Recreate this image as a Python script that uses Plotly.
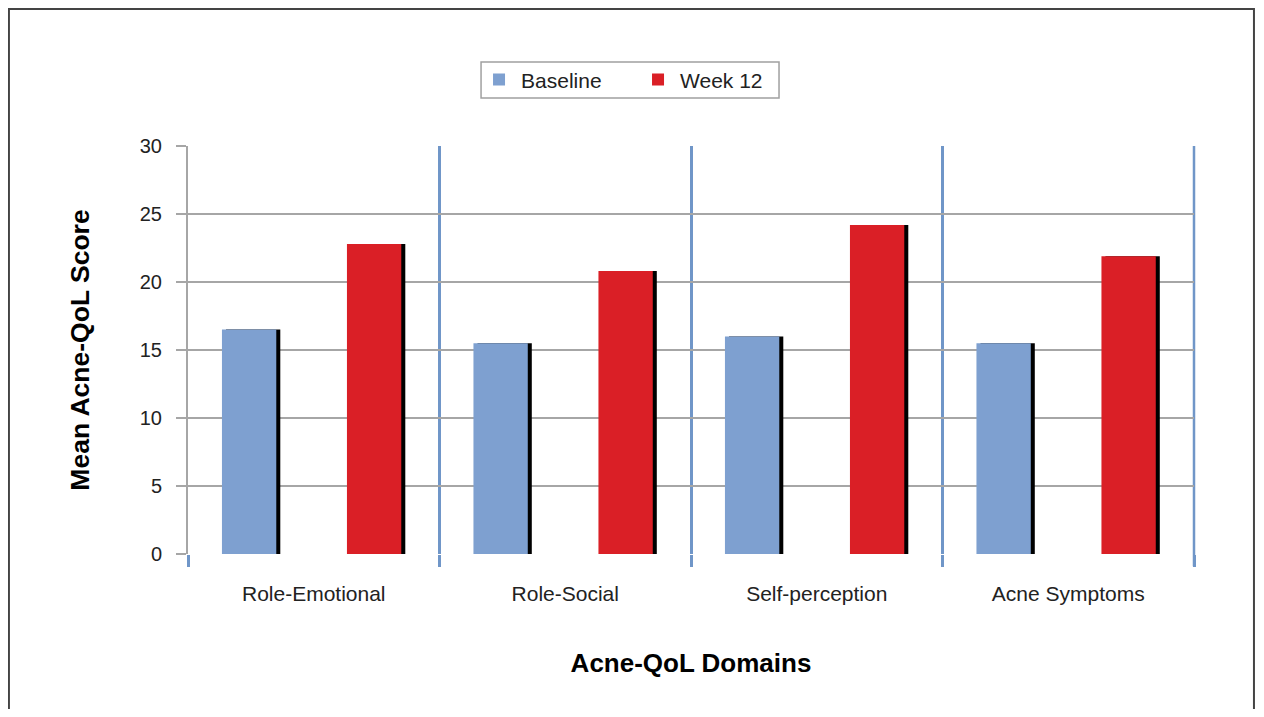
import plotly.graph_objects as go

domains = ["Role-Emotional", "Role-Social", "Self-perception", "Acne Symptoms"]
baseline = [16.5, 15.5, 16.0, 15.5]
week12 = [22.8, 20.8, 24.2, 21.9]
y_ticks = [0, 5, 10, 15, 20, 25, 30]

FONT = "Liberation Sans"
BAR_W = 0.216
SHADOW = 0.016
OFF_B = -0.365
OFF_W = 0.132

fig = go.Figure()
# shadows
fig.add_trace(go.Bar(x=domains, y=baseline, width=BAR_W, offset=OFF_B + SHADOW,
                     marker=dict(color="#000000", line=dict(width=0)),
                     showlegend=False, hoverinfo="skip"))
fig.add_trace(go.Bar(x=domains, y=week12, width=BAR_W, offset=OFF_W + SHADOW,
                     marker=dict(color="#000000", line=dict(width=0)),
                     showlegend=False, hoverinfo="skip"))
# bars
fig.add_trace(go.Bar(x=domains, y=baseline, width=BAR_W, offset=OFF_B, name="Baseline",
                     marker=dict(color="#7ea0d0", line=dict(width=0))))
fig.add_trace(go.Bar(x=domains, y=week12, width=BAR_W, offset=OFF_W, name="Week 12",
                     marker=dict(color="#da1f26", line=dict(width=0))))

fig.update_layout(
    width=1256, height=701,
    margin=dict(l=180, r=70, t=138, b=155),
    paper_bgcolor="white", plot_bgcolor="white",
    barmode="overlay",
    font=dict(family=FONT, size=20, color="#222222"),
    legend=dict(orientation="h", x=0.2873, y=1.162, xanchor="left", yanchor="middle",
                borderwidth=0, bgcolor="rgba(0,0,0,0)", font=dict(size=21, color="#222222"),
                itemwidth=34, entrywidth=110, traceorder="normal"),
    xaxis=dict(
        type="category", range=[-0.5, 3.5], tickson="boundaries",
        showgrid=True, gridcolor="#7096c8", gridwidth=2.5,
        ticks="outside", ticklen=12, tickcolor="#7096c8", tickwidth=2.5,
        showline=False, zeroline=False,
        tickfont=dict(size=21, color="#222222"), ticklabelstandoff=25,
        title=dict(text="<b>Acne-QoL Domains</b>", font=dict(size=26, color="#000000"), standoff=49),
    ),
    yaxis=dict(
        range=[0, 30], tickvals=y_ticks, showgrid=True, gridcolor="#a6a6a6", gridwidth=2,
        showline=True, linecolor="#a6a6a6", linewidth=2,
        ticks="outside", ticklen=10, tickcolor="#a6a6a6", tickwidth=2,
        zeroline=False, tickfont=dict(size=20, color="#222222"), ticklabelstandoff=10,
        title=dict(text="<b>Mean Acne-QoL Score</b>", font=dict(size=26.5, color="#000000"), standoff=42),
    ),
    shapes=[
        dict(type="rect", xref="paper", yref="paper",
             x0=-0.178, x1=1.0596, y0=-0.45, y1=1.336,
             line=dict(color="#444444", width=2), layer="below"),
        dict(type="line", xref="paper", yref="paper", x0=1, x1=1, y0=-0.03, y1=1,
             line=dict(color="#7096c8", width=2.5), layer="below"),
        dict(type="rect", xref="paper", yref="paper",
             x0=0.2913, x1=0.5875, y0=1.1176, y1=1.2059,
             line=dict(color="#a0a0a0", width=1.5), layer="above"),
    ],
)

fig.write_html("out.html")
